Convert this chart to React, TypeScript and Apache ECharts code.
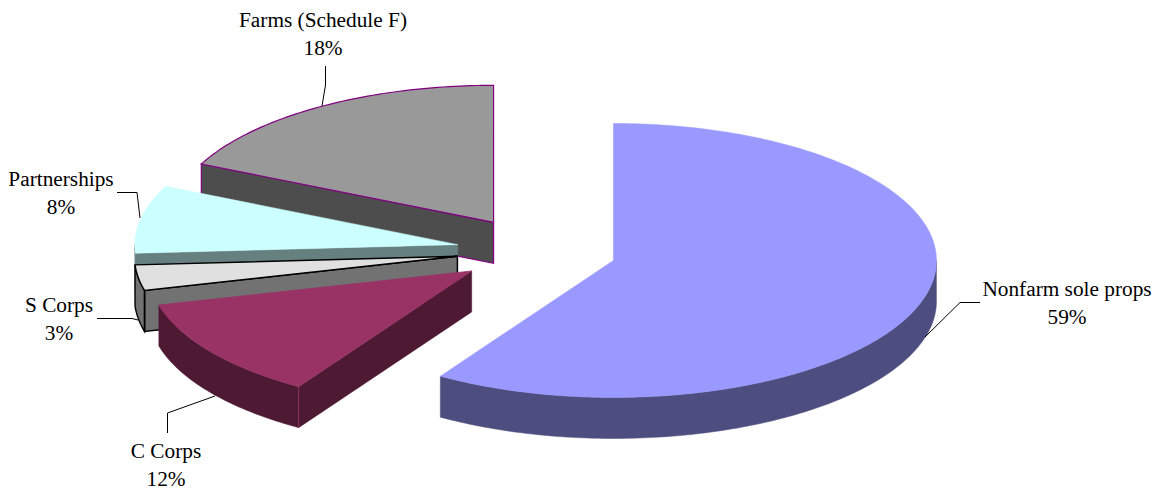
import React, { useEffect, useRef } from "react";
import * as echarts from "echarts";

// Share of returns by business form, clockwise from twelve o'clock.
const categories = ["Nonfarm sole props", "C Corps", "S Corps", "Partnerships", "Farms (Schedule F)"];
const shares = [59, 12, 3, 8, 18];

const topColors = ["#9999ff", "#993366", "#e0e0e0", "#ccffff", "#999999"];
const sideColors = ["#4d4d7f", "#4d1933", "#727272", "#668080", "#4d4d4d"];
const topBorders = [null, "#993366", "#000000", null, "#800080"];
const sideBorders = [null, null, "#000000", null, "#800080"];
const borderWidths = [0, 0.8, 1.4, 0, 1.2];

// Label centres and leader lines, by category index.
const labelCentres = [[1067, 303], [166, 465], [59, 318.5], [61, 193], [323, 34]];
const leaders = [
  [[925, 337], [960, 302.5], [980, 302.5]],
  [[167.5, 433], [167.5, 413], [215, 396]],
  [[97, 318.5], [132, 318.5], [138, 320]],
  [[117, 192.5], [137, 192.5], [140, 218]],
  [[325.5, 66], [325.5, 85], [322, 106]],
];

// Projection of the tilted pie.
const CX = 536.5;
const CY = 251;
const RX = 323;
const RY = 137;
const DEPTH = 41;
const EXPLODE = 0.248;
const STEP = Math.PI / 180;

const total = shares.reduce((a, b) => a + b, 0);

function rim(apex: number[], deg: number, drop = 0) {
  const t = deg * STEP;
  return [apex[0] + RX * Math.sin(t), apex[1] - RY * Math.cos(t) + drop];
}

function arcPoints(apex: number[], from: number, to: number, drop = 0) {
  const pts: number[][] = [];
  const n = Math.max(2, Math.ceil(to - from));
  for (let i = 0; i <= n; i++) pts.push(rim(apex, from + ((to - from) * i) / n, drop));
  return pts;
}

function renderSlice(params: any, api: any) {
  const i = params.dataIndex;
  let before = 0;
  for (let k = 0; k < i; k++) before += shares[k];
  const start = (before / total) * 360;
  const end = start + (api.value(0) / total) * 360;
  const mid = ((start + end) / 2) * STEP;
  const apex = [CX + EXPLODE * RX * Math.sin(mid), CY - EXPLODE * RY * Math.cos(mid)];
  const apexLow = [apex[0], apex[1] + DEPTH];

  const layer = (categories.length - i) * 10;
  const lineWidth = borderWidths[i];
  const children: any[] = [];

  const face = (points: number[][], fill: string, border: string | null, z: number) => {
    children.push({
      type: "polygon",
      z2: layer + z,
      shape: { points },
      style: { fill, stroke: border || fill, lineWidth: border ? lineWidth : 0.5 },
    });
  };

  // Cut faces turned towards the viewer.
  if (start > 180 && start < 360) {
    face([apex, rim(apex, start), rim(apex, start, DEPTH), apexLow], sideColors[i], sideBorders[i], 1);
  }
  if (end > 0 && end < 180) {
    face([apex, rim(apex, end), rim(apex, end, DEPTH), apexLow], sideColors[i], sideBorders[i], 1);
  }

  // Outer wall, only on the near half of the ellipse.
  const wallFrom = Math.max(start, 90);
  const wallTo = Math.min(end, 270);
  if (wallTo > wallFrom) {
    const upper = arcPoints(apex, wallFrom, wallTo);
    const lower = arcPoints(apex, wallFrom, wallTo, DEPTH).reverse();
    face([...upper, ...lower], sideColors[i], sideBorders[i], 2);
  }

  // Seam between the wall and the cut face.
  if (topBorders[i] && wallTo > wallFrom) {
    children.push({
      type: "line",
      z2: layer + 3,
      shape: (() => {
        const a = rim(apex, wallFrom);
        return { x1: a[0], y1: a[1], x2: a[0], y2: a[1] + DEPTH };
      })(),
      style: { stroke: topBorders[i], lineWidth },
    });
  }

  face([apex, ...arcPoints(apex, start, end)], topColors[i], topBorders[i], 4);

  children.push({
    type: "polyline",
    z2: 200,
    shape: { points: leaders[i] },
    style: { fill: null, stroke: "#000000", lineWidth: 1 },
  });
  children.push({
    type: "text",
    z2: 201,
    x: labelCentres[i][0],
    y: labelCentres[i][1],
    style: {
      text: `${categories[i]}\n${api.value(0)}%`,
      font: '21.3px "Liberation Serif", "Times New Roman", serif',
      lineHeight: 28,
      fill: "#000000",
      textAlign: "center",
      textVerticalAlign: "middle",
    },
  });
  return { type: "group", children };
}

export default function App() {
  const ref = useRef<HTMLDivElement>(null);
  useEffect(() => {
    const chart = echarts.init(ref.current!, undefined, { renderer: "svg" });
    chart.setOption({
      animation: false,
      backgroundColor: "#ffffff",
      series: [
        {
          type: "custom",
          coordinateSystem: "none",
          silent: true,
          renderItem: renderSlice,
          data: shares.map((v, i) => ({ name: categories[i], value: [v] })),
        },
      ],
    });
    return () => chart.dispose();
  }, []);
  return <div ref={ref} style={{ position: "absolute", left: 0, top: 0, width: 1163, height: 491 }} />;
}
